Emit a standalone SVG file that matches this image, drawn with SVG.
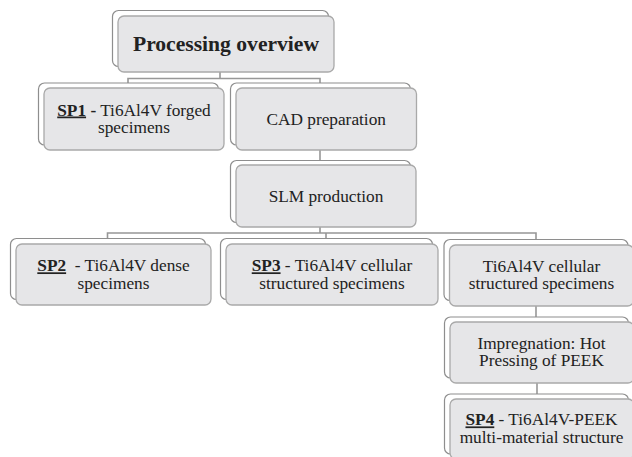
<svg xmlns="http://www.w3.org/2000/svg" width="632" height="457" viewBox="0 0 632 457">
<style>
.back{fill:#ffffff;stroke:#8e8e8e;stroke-width:1.2}
.front{fill:#e6e6e8;stroke:#a9a9a9;stroke-width:1.3}
.t{font-family:"Liberation Serif","Times New Roman",serif;font-size:17.3px;fill:#222222;text-anchor:middle}
.title{font-family:"Liberation Serif","Times New Roman",serif;font-size:21.6px;font-weight:bold;fill:#222222;text-anchor:middle}
.b{font-weight:bold}
.u{font-weight:bold;text-decoration:underline}
.conn{fill:none;stroke:#979797;stroke-width:1.6}
</style>
<rect width="632" height="457" fill="#ffffff"/>
<g id="connectors">
<path class="conn" d="M220,72 V78.5 M128,83 V78.5 H320 V83"/>
<path class="conn" d="M320,150 V160.5"/>
<path class="conn" d="M320,227 V233 M107.5,238.5 V233 H536 V239.5 M326,233 V238.5"/>
<path class="conn" d="M536,306 V317"/>
<path class="conn" d="M537,383 V394"/>
</g>
<g id="n-overview">
<rect class="back" x="112.5" y="10.5" width="216" height="56" rx="6"/>
<rect class="front" x="118" y="16" width="216" height="56" rx="6"/>
<text class="title" x="226" y="51">Processing overview</text>
</g>
<g id="n-sp1">
<rect class="back" x="38.5" y="83" width="180" height="62" rx="6"/>
<rect class="front" x="44" y="88" width="180" height="62" rx="6"/>
<text class="t"><tspan x="134" y="115.5"><tspan class="u">SP1</tspan><tspan class="b"> -</tspan> Ti6Al4V forged</tspan><tspan x="134" dy="17.2">specimens</tspan></text>
</g>
<g id="n-cad">
<rect class="back" x="230.5" y="83" width="180" height="62" rx="6"/>
<rect class="front" x="236" y="88" width="180.5" height="62" rx="6"/>
<text class="t" x="326.2" y="124.5">CAD preparation</text>
</g>
<g id="n-slm">
<rect class="back" x="230.5" y="160.5" width="180" height="62" rx="6"/>
<rect class="front" x="236" y="165" width="180" height="62" rx="6"/>
<text class="t" x="326" y="201.7">SLM production</text>
</g>
<g id="n-sp2">
<rect class="back" x="10.5" y="238.5" width="195" height="61" rx="6"/>
<rect class="front" x="16" y="244" width="195" height="61" rx="6"/>
<text class="t"><tspan x="113.5" y="271.3"><tspan class="u">SP2</tspan>&#160; - Ti6Al4V dense</tspan><tspan x="113.5" dy="17.2">specimens</tspan></text>
</g>
<g id="n-sp3">
<rect class="back" x="220.5" y="238.5" width="212" height="61" rx="6"/>
<rect class="front" x="226" y="244" width="212" height="61" rx="6"/>
<text class="t"><tspan x="332" y="271.3"><tspan class="u">SP3</tspan> - Ti6Al4V cellular</tspan><tspan x="332" dy="17.2">structured specimens</tspan></text>
</g>
<g id="n-cellular">
<rect class="back" x="444" y="239.5" width="184" height="61" rx="6"/>
<rect class="front" x="449.5" y="245" width="184" height="61" rx="6"/>
<text class="t"><tspan x="541.5" y="272">Ti6Al4V cellular</tspan><tspan x="541.5" dy="17.2">structured specimens</tspan></text>
</g>
<g id="n-impregnation">
<rect class="back" x="444.5" y="317" width="184" height="61" rx="6"/>
<rect class="front" x="450" y="322" width="184" height="61" rx="6"/>
<text class="t"><tspan x="541.5" y="348.7">Impregnation: Hot</tspan><tspan x="541.5" dy="17.2">Pressing of PEEK</tspan></text>
</g>
<g id="n-sp4">
<rect class="back" x="444.5" y="394" width="184" height="60" rx="6"/>
<rect class="front" x="450" y="399" width="184" height="60" rx="6"/>
<text class="t"><tspan x="541.5" y="425.4"><tspan class="u">SP4</tspan> - Ti6Al4V-PEEK</tspan><tspan x="541.5" dy="17.2">multi-material structure</tspan></text>
</g>
</svg>
